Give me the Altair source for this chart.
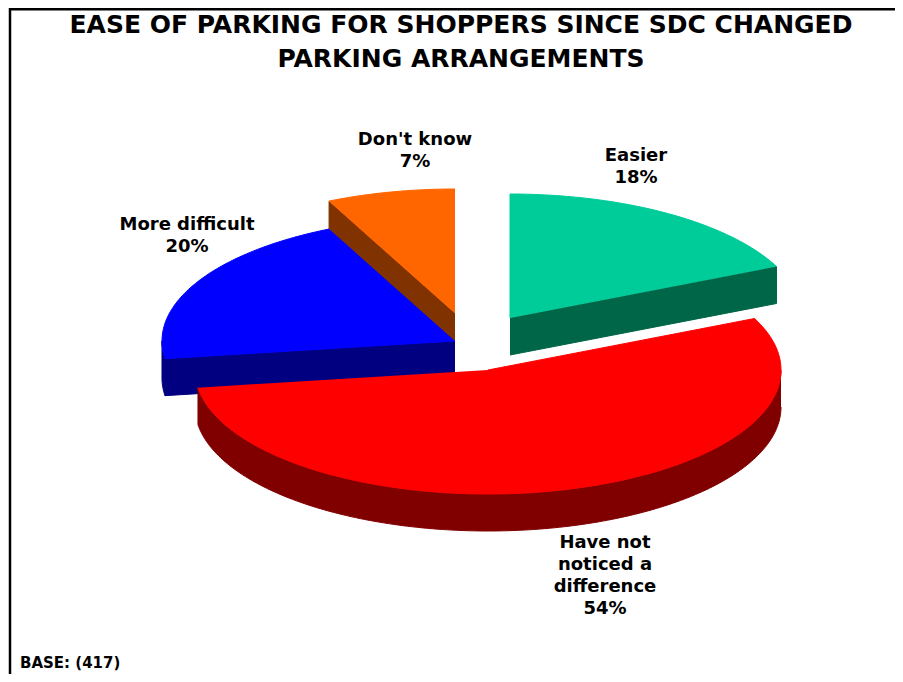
import numpy as np
import pandas as pd
import altair as alt

# ---- data ----
categories = ["Easier", "Have not noticed a difference", "More difficult", "Don't know"]
values = [18, 54, 20, 7]
label_text = ["Easier", "Have not\nnoticed a\ndifference", "More difficult", "Don't know"]
title_lines = ["EASE OF PARKING FOR SHOPPERS SINCE SDC CHANGED", "PARKING ARRANGEMENTS"]
base_note = "BASE: (417)"

# ---- style / layout ----
top_colors = ["#00CC99", "#FF0000", "#0000FF", "#FF6600"]
side_colors = ["#006648", "#800000", "#000080", "#803300"]
corners = [(510, 318), (488, 370), (455, 341), (455, 313)]   # exploded slice apex (page px)
label_pos = [(636, 161), (605, 548), (187, 230), (415, 145)]  # first-line baseline
RX, RY, DEPTH = 293, 124, 37
W, H = 887, 666

tot = float(sum(values))
ends = np.cumsum(values) / tot * 360.0
starts = np.concatenate([[0.0], ends[:-1]])


def rim(cx, cy, t0, t1, dy=0.0):
    n = max(2, int(abs(t1 - t0)) + 2)
    th = np.radians(np.linspace(t0, t1, n))
    return list(cx + RX * np.sin(th)), list(cy - RY * np.cos(th) + dy)


def pt(cx, cy, t):
    r = np.radians(t)
    return cx + RX * np.sin(r), cy - RY * np.cos(r)


def front(a):
    a = a % 360
    return 90 < a < 270


rows = []
pid = 0


def add_poly(xs, ys, color):
    global pid
    for i, (x, y) in enumerate(zip(xs, ys)):
        rows.append({"poly": pid, "i": i, "x": x, "y": y, "col": color})
    pid += 1


order = sorted(range(len(values)), key=lambda k: corners[k][1])
for k in order:
    cx, cy = corners[k]
    t0, t1 = starts[k], ends[k]
    side = side_colors[k]
    # radial walls
    if front(t0 - 90):
        px, py = pt(cx, cy, t0)
        add_poly([cx, px, px, cx], [cy, py, py + DEPTH, cy + DEPTH], side)
    if front(t1 + 90):
        px, py = pt(cx, cy, t1)
        add_poly([cx, px, px, cx], [cy, py, py + DEPTH, cy + DEPTH], side)
    # outer rim wall (front half only)
    lo, hi = max(t0, 90), min(t1, 270)
    if hi > lo:
        ax, ay = rim(cx, cy, lo, hi)
        bx, by = rim(cx, cy, hi, lo, DEPTH)
        add_poly(ax + bx, ay + by, side)
    # top face
    ax, ay = rim(cx, cy, t0, t1)
    add_poly([cx] + ax, [cy] + ay, top_colors[k])

poly_df = pd.DataFrame(rows)

xs = alt.Scale(domain=[8, 8 + W], nice=False, zero=False)
ys = alt.Scale(domain=[8, 8 + H], nice=False, zero=False, reverse=True)

layers = []
for p in range(pid):
    layers.append(
        alt.Chart(poly_df)
        .transform_filter(alt.datum.poly == p)
        .mark_line(filled=True, strokeWidth=1, interpolate="linear")
        .encode(
            x=alt.X("x:Q", scale=xs, axis=None),
            y=alt.Y("y:Q", scale=ys, axis=None),
            order=alt.Order("i:Q"),
            color=alt.Color("col:N", scale=None, legend=None),
            stroke=alt.Stroke("col:N", scale=None, legend=None),
        )
    )

lab_df = pd.DataFrame({
    "x": [p[0] for p in label_pos],
    "y": [p[1] for p in label_pos],
    "text": [f"{t}\n{v}%" for t, v in zip(label_text, values)],
})
labels = alt.Chart(lab_df).mark_text(
    font="DejaVu Sans", fontWeight="bold", fontSize=18, lineBreak="\n",
    lineHeight=22, align="center", baseline="alphabetic", color="black",
).encode(x=alt.X("x:Q", scale=xs, axis=None), y=alt.Y("y:Q", scale=ys, axis=None), text="text:N")

title = alt.Chart(pd.DataFrame({"t": ["\n".join(title_lines)]})).mark_text(
    font="DejaVu Sans", fontWeight="bold", fontSize=25, lineBreak="\n",
    lineHeight=34, align="center", baseline="alphabetic", color="black",
).encode(x=alt.value(453), y=alt.value(25), text="t:N")

base = alt.Chart(pd.DataFrame({"t": [base_note]})).mark_text(
    font="DejaVu Sans", fontWeight="bold", fontSize=15, align="left",
    baseline="alphabetic", color="black",
).encode(x=alt.value(12), y=alt.value(660), text="t:N")

border_top = alt.Chart(pd.DataFrame({"a": [0]})).mark_rule(color="black", strokeWidth=2.5).encode(
    x=alt.value(1), x2=alt.value(W), y=alt.value(1.2))
border_left = alt.Chart(pd.DataFrame({"a": [0]})).mark_rule(color="black", strokeWidth=2.5).encode(
    x=alt.value(2), y=alt.value(0), y2=alt.value(H))

chart = alt.layer(*layers, labels, title, base, border_top, border_left).properties(
    width=W, height=H, padding=0, autosize=alt.AutoSizeParams(type="none"),
    background="white",
).configure_view(strokeWidth=0)

chart.save("out.html", embed_options={"renderer": "svg", "actions": False})
